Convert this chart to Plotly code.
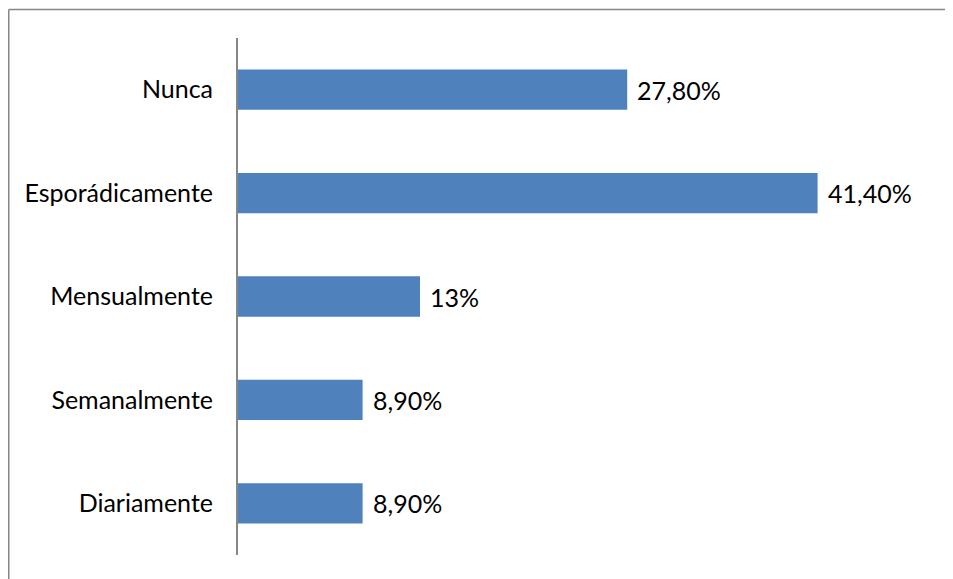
import plotly.graph_objects as go

categorias = ["Nunca", "Esporádicamente", "Mensualmente", "Semanalmente", "Diariamente"]
valores = [27.8, 41.4, 13.0, 8.9, 8.9]
etiquetas = ["27,80%", "41,40%", "13%", "8,90%", "8,90%"]

AZUL = "#4F81BD"
GRIS = "#868686"
FUENTE = "Lato, Open Sans, sans-serif"
TAM = 25

fig = go.Figure()
fig.add_trace(
    go.Bar(
        y=categorias,
        x=valores,
        orientation="h",
        width=0.39,
        marker_color=AZUL,
        marker_line_width=0,
        hoverinfo="skip",
    )
)

for cat, val, lbl in zip(categorias, valores, etiquetas):
    fig.add_annotation(
        x=val, y=cat, text=lbl, showarrow=False,
        xanchor="left", xshift=8,
        font={"size": TAM, "color": "#000000", "family": FUENTE},
    )

# marco del gráfico (solo borde superior e izquierdo visibles)
fig.add_shape(
    type="line", xref="paper", yref="paper",
    x0=-0.3275, x1=1.2, y0=1.0551, y1=1.0551,
    line={"color": GRIS, "width": 1.5}, layer="below",
)
fig.add_shape(
    type="line", xref="paper", yref="paper",
    x0=-0.3275, x1=-0.3275, y0=-0.2, y1=1.0551,
    line={"color": GRIS, "width": 1.5}, layer="below",
)

fig.update_layout(
    width=945,
    height=571,
    margin={"l": 230, "r": 15, "t": 30, "b": 24},
    plot_bgcolor="white",
    paper_bgcolor="white",
    showlegend=False,
    font={"family": FUENTE, "size": TAM, "color": "#000000"},
)
fig.update_xaxes(range=[0, 50], visible=False, showgrid=False, zeroline=False)
fig.update_yaxes(
    autorange="reversed",
    showline=True, linecolor=GRIS, linewidth=2,
    showgrid=False, ticks="", ticklabelstandoff=18,
    tickfont={"size": TAM, "family": FUENTE},
)

fig.write_html("out.html")
